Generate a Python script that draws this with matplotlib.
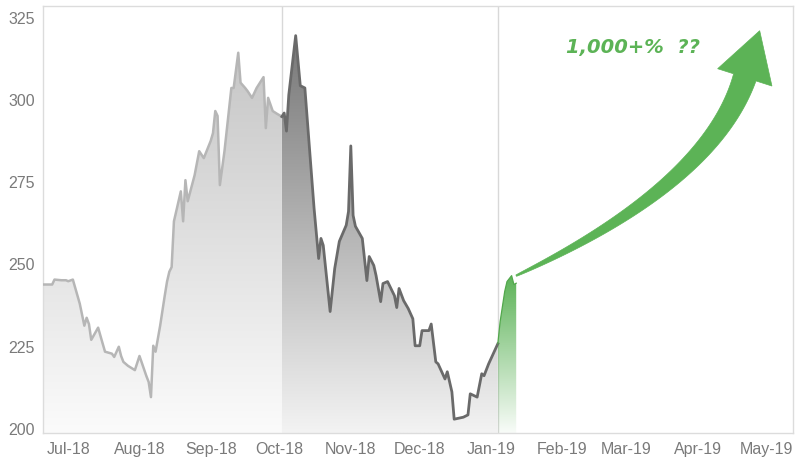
import numpy as np
import pandas as pd
import matplotlib
matplotlib.use("Agg")
import matplotlib.pyplot as plt
import matplotlib.dates as mdates
from matplotlib.patches import Polygon
from matplotlib.colors import LinearSegmentedColormap

# ---- price series (three phases) ----
early_dates = ["2018-06-20", "2018-06-24", "2018-06-25", "2018-06-28", "2018-06-30",
               "2018-07-01", "2018-07-03", "2018-07-06", "2018-07-08", "2018-07-09",
               "2018-07-10", "2018-07-11", "2018-07-14", "2018-07-16", "2018-07-17",
               "2018-07-20", "2018-07-21", "2018-07-23", "2018-07-24", "2018-07-25",
               "2018-07-27", "2018-07-30", "2018-08-01", "2018-08-04", "2018-08-05",
               "2018-08-06", "2018-08-07", "2018-08-08", "2018-08-10", "2018-08-12",
               "2018-08-13", "2018-08-14", "2018-08-15", "2018-08-16", "2018-08-19",
               "2018-08-20", "2018-08-21", "2018-08-22", "2018-08-25", "2018-08-27",
               "2018-08-29", "2018-09-01", "2018-09-02", "2018-09-03", "2018-09-04",
               "2018-09-05", "2018-09-07", "2018-09-10", "2018-09-11", "2018-09-13",
               "2018-09-14", "2018-09-16", "2018-09-17", "2018-09-19", "2018-09-21",
               "2018-09-24", "2018-09-25", "2018-09-26", "2018-09-28", "2018-09-30",
               "2018-10-02"]
early_values = [243.6, 243.6, 245.1, 244.9, 244.9,
                244.6, 245.1, 237.8, 231.1, 233.5,
                231.6, 226.8, 230.5, 225.6, 223.2,
                222.6, 221.6, 224.7, 221.9, 220.1,
                218.9, 217.6, 221.9, 215.8, 214.0,
                209.4, 225.0, 223.2, 231.1, 240.2,
                244.5, 247.5, 248.9, 262.8, 271.9,
                262.8, 275.3, 268.9, 276.8, 284.1,
                282.0, 287.2, 289.6, 296.3, 294.8,
                273.8, 284.1, 303.3, 303.3, 314.0,
                304.9, 303.3, 302.4, 300.3, 303.3,
                306.6, 291.1, 300.3, 296.3, 295.4,
                294.6]

late_dates = ["2018-10-02", "2018-10-03", "2018-10-04", "2018-10-05", "2018-10-08",
              "2018-10-10", "2018-10-12", "2018-10-16", "2018-10-18", "2018-10-19",
              "2018-10-20", "2018-10-23", "2018-10-25", "2018-10-27", "2018-10-30",
              "2018-10-31", "2018-11-01", "2018-11-02", "2018-11-03", "2018-11-06",
              "2018-11-08", "2018-11-09", "2018-11-11", "2018-11-12", "2018-11-14",
              "2018-11-15", "2018-11-17", "2018-11-20", "2018-11-21", "2018-11-22",
              "2018-11-24", "2018-11-26", "2018-11-28", "2018-11-29", "2018-12-01",
              "2018-12-02", "2018-12-05", "2018-12-06", "2018-12-08", "2018-12-09",
              "2018-12-12", "2018-12-13", "2018-12-15", "2018-12-16", "2018-12-20",
              "2018-12-22", "2018-12-23", "2018-12-26", "2018-12-28", "2018-12-29",
              "2018-12-31", "2019-01-04"]
late_values = [294.6, 295.7, 290.2, 301.2, 319.2,
               304.0, 303.3, 266.8, 251.5, 257.6,
               255.5, 235.4, 248.5, 256.7, 261.6,
               265.8, 285.7, 264.6, 261.3, 257.6,
               244.8, 252.1, 249.4, 246.3, 238.4,
               243.9, 244.5, 240.2, 236.6, 242.4,
               238.7, 236.3, 233.2, 225.0, 225.0,
               229.6, 229.6, 231.6, 220.1, 219.5,
               214.9, 217.1, 211.0, 202.7, 203.3,
               204.0, 210.4, 209.4, 216.5, 215.9,
               219.5, 225.6]

rally_dates = ["2019-01-04", "2019-01-05", "2019-01-07", "2019-01-08", "2019-01-10",
               "2019-01-11", "2019-01-12"]
rally_values = [225.6, 232.3, 241.5, 244.5, 246.3, 243.6, 244.0]

month_ticks = pd.date_range("2018-07-01", "2019-05-01", freq="MS")
y_ticks = [200, 225, 250, 275, 300, 325]

callout_text = "1,000+%  ??"
callout_date, callout_value = "2019-03-04", 316.0
arrow_tip_date, arrow_tip_value = "2019-04-28", 320.7

GREEN = "#5cb356"
Y_MIN, Y_MAX = 198.5, 328.2
X_MIN, X_MAX = pd.Timestamp("2018-06-20"), pd.Timestamp("2019-05-12 12:00")


def to_num(dates):
    return mdates.date2num(pd.to_datetime(dates))


def gradient_area(ax, dates, values, colors, top, zorder):
    xn = to_num(dates)
    verts = [(xn[0], Y_MIN)] + list(zip(xn, values)) + [(xn[-1], Y_MIN)]
    clip = Polygon(verts, closed=True, facecolor="none", edgecolor="none")
    ax.add_patch(clip)
    cmap = LinearSegmentedColormap.from_list("area", colors)
    grad = np.linspace(0, 1, 256).reshape(-1, 1)
    im = ax.imshow(grad, cmap=cmap, origin="lower", aspect="auto",
                   extent=[xn[0], xn[-1], Y_MIN, top],
                   interpolation="bilinear", zorder=zorder)
    im.set_clip_path(clip)


fig = plt.figure(figsize=(7.96, 4.60), dpi=100)
ax = fig.add_axes([43 / 796, 1 - 434 / 460, 750 / 796, 427 / 460])

# separators between phases
for d in (late_dates[0], rally_dates[0]):
    ax.axvline(to_num([d])[0], color="#d8d8d8", lw=1.0, zorder=0.5)

gradient_area(ax, early_dates, early_values, ["#fbfbfb", "#c0c0c0"], Y_MAX, 1)
gradient_area(ax, late_dates, late_values, ["#f3f3f3", "#6e6e6e"], Y_MAX, 1)
g = (0.36, 0.70, 0.34)
gradient_area(ax, rally_dates, rally_values,
              [g + (0.04,), g + (1.0,)], max(rally_values), 2)

ax.plot(to_num(early_dates), early_values, color="#b6b6b6", lw=1.8,
        solid_joinstyle="round", zorder=3)
ax.plot(to_num(late_dates), late_values, color="#6a6a6a", lw=2.0,
        solid_joinstyle="round", zorder=3)
ax.plot(to_num(rally_dates), rally_values, color="#52a84c", lw=0.9, zorder=3)

ax.set_xlim(mdates.date2num(X_MIN), mdates.date2num(X_MAX))
ax.set_ylim(Y_MIN, Y_MAX)
ax.set_xticks(to_num(month_ticks))
ax.set_xticklabels([d.strftime("%b-%y") for d in month_ticks])
ax.set_yticks(y_ticks)
ax.set_yticklabels([str(v) for v in y_ticks])
ax.tick_params(length=0, labelcolor="#7a7a7a", labelsize=11.5, pad=6)
for lab in ax.get_xticklabels() + ax.get_yticklabels():
    lab.set_family("Liberation Sans")
for sp in ax.spines.values():
    sp.set_color("#dcdcdc")
    sp.set_linewidth(1.0)

# curved call-out arrow, built in display space then mapped to data
to_disp = ax.transData.transform
start = to_disp((to_num([rally_dates[-1]])[0], max(rally_values)))
tip = to_disp((to_num([arrow_tip_date])[0], arrow_tip_value))
head_len, head_half = 49.0, 28.5
u = np.array([np.cos(np.radians(72.3)), np.sin(np.radians(72.3))])
a = np.array([np.cos(np.radians(25.0)), np.sin(np.radians(25.0))])
base = tip - head_len * u
A = np.column_stack([a, u])
t_s = np.linalg.solve(A, base - start)
ctrl = start + t_s[0] * a
ts = np.linspace(0, 1, 80)[:, None]
curve = (1 - ts) ** 2 * start + 2 * ts * (1 - ts) * ctrl + ts ** 2 * base
deriv = 2 * (1 - ts) * (ctrl - start) + 2 * ts * (base - ctrl)
deriv /= np.linalg.norm(deriv, axis=1, keepdims=True)
normal = np.column_stack([-deriv[:, 1], deriv[:, 0]])
width = 1.5 + 22.0 * ts ** 0.8
left = curve + normal * width / 2
right = curve - normal * width / 2
n_end = np.array([-u[1], u[0]])
outline = np.vstack([left, base + head_half * n_end, tip,
                     base - head_half * n_end, right[::-1]])
outline_data = ax.transData.inverted().transform(outline)
ax.add_patch(Polygon(outline_data, closed=True, facecolor=GREEN,
                     edgecolor=GREEN, lw=0.5, zorder=5))

ax.text(to_num([callout_date])[0], callout_value, callout_text,
        ha="center", va="center", color=GREEN, fontsize=14,
        fontweight="bold", fontstyle="italic", zorder=6)

fig.savefig("out.png", dpi=100)
